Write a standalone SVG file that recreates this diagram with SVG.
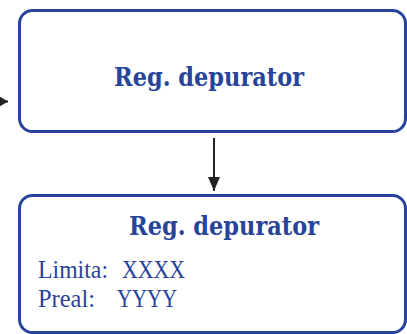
<svg xmlns="http://www.w3.org/2000/svg" width="407" height="334" viewBox="0 0 407 334">
<defs>
<marker id="ah" markerWidth="10" markerHeight="12" refX="10" refY="6" orient="auto" markerUnits="userSpaceOnUse">
<path d="M0,0 L10,6 L0,12 Z" fill="#222"/>
</marker>
<marker id="ahv" markerWidth="14" markerHeight="12" refX="14" refY="6" orient="auto" markerUnits="userSpaceOnUse">
<path d="M0,0 L14,6 L0,12 Z" fill="#222"/>
</marker>
</defs>
<style>
.box{fill:#fff;stroke:#27449a;stroke-width:3}
.title{font-family:"DejaVu Serif",serif;font-weight:bold;font-size:26px;fill:#27449a;text-anchor:middle}
.body{font-family:"Liberation Serif",serif;font-size:25px;fill:#27449a}
.conn{stroke:#222;stroke-width:2;fill:none}
</style>
<rect width="407" height="334" fill="#fff"/>
<g id="connectors">
<line class="conn" x1="-10" y1="101.5" x2="8" y2="101.5" marker-end="url(#ah)"/>
<line class="conn" x1="214" y1="138" x2="214" y2="191" marker-end="url(#ahv)"/>
</g>
<g id="node-top">
<rect class="box" x="19.5" y="10.5" width="386" height="121" rx="13"/>
<text class="title" x="209" y="86" textLength="190" lengthAdjust="spacingAndGlyphs">Reg. depurator</text>
</g>
<g id="node-bottom">
<rect class="box" x="19.5" y="195.5" width="386" height="137" rx="13"/>
<text class="title" x="224" y="235" textLength="190" lengthAdjust="spacingAndGlyphs">Reg. depurator</text>
<text class="body" x="38" y="278" textLength="70" lengthAdjust="spacingAndGlyphs">Limita:</text>
<text class="body" x="122" y="278" textLength="63" lengthAdjust="spacingAndGlyphs">XXXX</text>
<text class="body" x="38" y="307" textLength="57" lengthAdjust="spacingAndGlyphs">Preal:</text>
<text class="body" x="117" y="307" textLength="60" lengthAdjust="spacingAndGlyphs">YYYY</text>
</g>
</svg>
